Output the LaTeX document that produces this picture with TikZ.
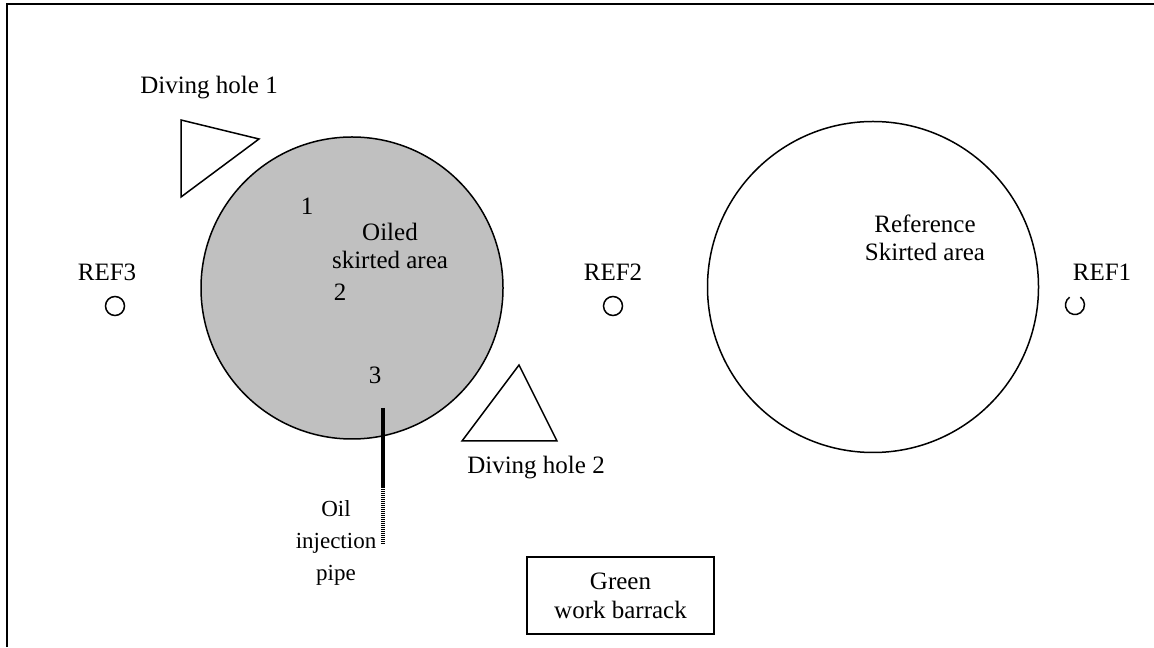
\documentclass[tikz,border=0pt]{standalone}
\usepackage{fontspec}
\setmainfont{Liberation Serif}
\usetikzlibrary{positioning}
\definecolor{oilgray}{RGB}{192,192,192}
\tikzset{
	area/.style = {draw, circle, line width=0.75pt, inner sep=0pt},
	refmark/.style = {draw, circle, line width=0.75pt, minimum size=9.5pt, inner sep=0pt},
	lbl/.style = {align=center, inner sep=0pt, font=\fontsize{12.5}{14}\selectfont},
	hole/.style = {draw, line width=0.75pt, line join=miter, fill=white},
	barrack/.style = {draw, rectangle, line width=0.75pt, align=center, minimum width=93.5pt, minimum height=38.5pt, font=\fontsize{12.5}{14.5}\selectfont}
}

\begin{document}
\begin{tikzpicture}[x=0.5pt,y=0.5pt]
		\useasboundingbox (0,0) rectangle (1154,647);
		% frame (cut off right and bottom)
		\draw [line width=1pt] (7,0) -- (7,643) -- (1154,643);

		% skirted areas
		\node [area, fill=oilgray, minimum size=151pt] (oiled) at (352,359) {};
		\node [area, minimum size=165.5pt] (reference) at (873,360) {};

		% diving holes
		\draw [hole] (181,527) coordinate (dh1a) -- (259,508) coordinate (dh1b) -- (181,450) coordinate (dh1c) -- cycle;
		\draw [hole] (519,282) coordinate (dh2a) -- (462,206) coordinate (dh2b) -- (557,206) coordinate (dh2c) -- cycle;

		% reference points
		\node [refmark] (ref3) at (115,341) {};
		\node [refmark] (ref2) at (613,341) {};
		\coordinate (ref1) at (1075,342);
		\draw [line width=0.75pt] ([shift={(125:9.5)}]ref1) arc [start angle=125, end angle=415, radius=9.5];

		% oil injection pipe
		\coordinate (pipetop) at (383,239);
		\coordinate (pipemid) at (383,160);
		\coordinate (pipeend) at (383,102);
		\draw [line width=2pt] (pipetop) -- (pipemid);
		\draw [line width=2pt, dash pattern=on 0.5pt off 0.5pt] (pipemid) -- (pipeend);

		% work barrack
		\node [barrack] (barrack) at (620.5,51.5) {Green\\work barrack};

		% labels
		\node [lbl] (dh1lbl) at (209,559) {Diving hole 1};
		\node [lbl] (dh2lbl) at (536,179) {Diving hole 2};
		\node [lbl] (oiledlbl) at (390,401) {Oiled\\skirted area};
		\node [lbl] (reflbl) at (925,409) {Reference\\Skirted area};
		\node [lbl] (ref3lbl) at (107,375) {REF3};
		\node [lbl] (ref2lbl) at (613,375) {REF2};
		\node [lbl] (ref1lbl) at (1102,375) {REF1};
		\node [lbl] (pt1) at (307,441) {1};
		\node [lbl] (pt2) at (340,355) {2};
		\node [lbl] (pt3) at (375,272) {3};
		\node [lbl, font=\fontsize{11.5}{16}\selectfont] (pipelbl) at (336,104) {Oil\\injection\\pipe};
	\end{tikzpicture}
\end{document}
